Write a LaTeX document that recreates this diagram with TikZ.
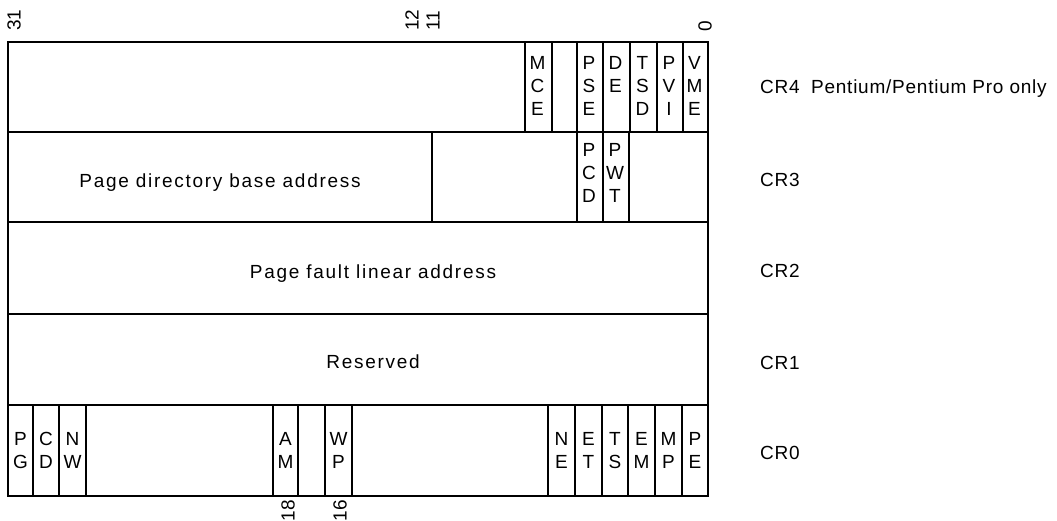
\documentclass[tikz,border=0pt]{standalone}
\usepackage{fontspec}
\setmainfont{Liberation Sans}
\newfontfamily\spacedfont{Liberation Sans}[LetterSpace=9]
\newfontfamily\crfont{Liberation Sans}[LetterSpace=4]
\begin{document}
\begin{tikzpicture}[x=1pt,y=-1pt,
  frame/.style={line width=1.6pt},
  bitlbl/.style={inner sep=0pt, align=center, anchor=north, font=\fontsize{19}{23}\selectfont},
  fieldlbl/.style={inner sep=0pt, anchor=base, font=\spacedfont\fontsize{19}{21}\selectfont},
  reglbl/.style={inner sep=0pt, anchor=base west, font=\crfont\fontsize{19}{21}\selectfont},
  bitnum/.style={inner sep=0pt, rotate=90, font=\fontsize{19}{21}\selectfont},
]
\useasboundingbox (0,0) rectangle (1057,521);
% outer frame and row separators
\coordinate (tl) at (8,42);
\coordinate (br) at (708,496);
\draw[frame] (tl) rectangle (br);
\foreach \y in {132,222,314,405} \draw[frame] (8,\y) -- (708,\y);
% CR4 dividers
\foreach \x in {525,552,577,603,630,657,683} \draw[frame] (\x,42) -- (\x,132);
% CR3 dividers
\foreach \x in {432,577,603,629} \draw[frame] (\x,132) -- (\x,222);
% CR0 dividers
\foreach \x in {33,59,86,273,298,325,352,548,575,602,628,655,682} \draw[frame] (\x,405) -- (\x,496);
% CR4 flags
\node[bitlbl] (mce) at (537.5,56) {M\\C\\E};
\node[bitlbl] (pse) at (589,56) {P\\S\\E};
\node[bitlbl] (de)  at (615.5,56) {D\\E};
\node[bitlbl] (tsd) at (642.5,56) {T\\S\\D};
\node[bitlbl] (pvi) at (669,56) {P\\V\\I};
\node[bitlbl] (vme) at (694.5,56) {V\\M\\E};
% CR3 flags
\node[bitlbl] (pcd) at (589,143) {P\\C\\D};
\node[bitlbl] (pwt) at (615,143) {P\\W\\T};
% CR0 flags
\node[bitlbl] (pg) at (20.5,432) {P\\G};
\node[bitlbl] (cd) at (46,432) {C\\D};
\node[bitlbl] (nw) at (72.5,432) {N\\W};
\node[bitlbl] (am) at (285.5,432) {A\\M};
\node[bitlbl] (wp) at (338.5,432) {W\\P};
\node[bitlbl] (ne) at (561.5,432) {N\\E};
\node[bitlbl] (et) at (588.5,432) {E\\T};
\node[bitlbl] (ts) at (615,432) {T\\S};
\node[bitlbl] (em) at (641.5,432) {E\\M};
\node[bitlbl] (mp) at (668.5,432) {M\\P};
\node[bitlbl] (pe) at (695,432) {P\\E};
% field texts
\node[fieldlbl] (pdba) at (220,188) {Page directory base address};
\node[fieldlbl] (pfla) at (373,279) {Page fault linear address};
\node[fieldlbl] (res)  at (373,368) {Reserved};
% register names
\node[reglbl] (cr4) at (760,94) {CR4\hspace{0.6em}Pentium/Pentium Pro only};
\node[reglbl] (cr3) at (760,187) {CR3};
\node[reglbl] (cr2) at (760,278) {CR2};
\node[reglbl] (cr1) at (760,369) {CR1};
\node[reglbl] (cr0) at (760,459) {CR0};
% bit numbers
\node[bitnum, anchor=west] (b31) at (14,31) {31};
\node[bitnum, anchor=west] (b12) at (412,31) {12};
\node[bitnum, anchor=west] (b11) at (433,31) {11};
\node[bitnum, anchor=west] (b0)  at (705,32) {0};
\node[bitnum, anchor=east] (b18) at (288,500) {18};
\node[bitnum, anchor=east] (b16) at (340,500) {16};
\end{tikzpicture}
\end{document}
